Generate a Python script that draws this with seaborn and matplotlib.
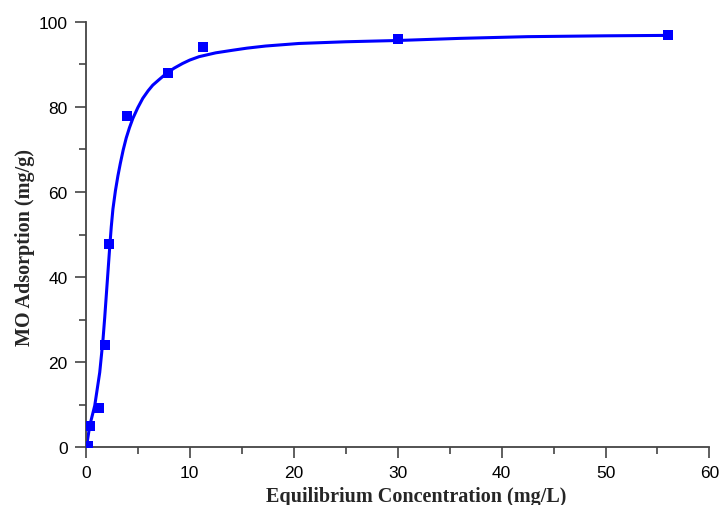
import matplotlib
matplotlib.use("Agg")
import matplotlib.pyplot as plt
from matplotlib.ticker import MultipleLocator
import seaborn as sns
import pandas as pd

# measured data points
ce_points = [0.22, 0.38, 1.24, 1.89, 2.23, 3.99, 7.88, 11.23, 30.05, 56.05]
qe_points = [0.4, 5.0, 9.2, 24.1, 47.8, 77.9, 88.0, 94.1, 95.9, 97.0]

# fitted curve
ce_fit = [0.0, 0.07, 0.38, 0.86, 1.34, 1.5, 1.66, 1.82, 1.98, 2.14, 2.30, 2.45,
          2.61, 2.85, 3.09, 3.32, 3.6, 3.89, 4.2, 4.53, 5.0, 5.48, 6.0, 6.44,
          7.0, 7.72, 8.5, 9.31, 10.0, 10.9, 12.5, 14.1, 15.5, 17.3, 20.5,
          25.0, 30.0, 36.0, 42.5, 50.0, 56.05]
qe_fit = [0.0, 0.2, 5.1, 9.8, 17.6, 21.5, 25.5, 30.5, 36.0, 41.5, 47.0, 51.8,
          56.0, 60.3, 63.8, 66.7, 69.9, 72.7, 75.1, 77.3, 79.8, 82.0, 83.8,
          85.1, 86.3, 87.8, 89.1, 90.2, 91.0, 91.8, 92.7, 93.3, 93.8, 94.3,
          94.9, 95.3, 95.6, 96.1, 96.5, 96.7, 96.8]

x_ticks = [0, 10, 20, 30, 40, 50, 60]
y_ticks = [0, 20, 40, 60, 80, 100]

sns.set_style("ticks")
plt.rcParams["font.family"] = ["Liberation Sans", "DejaVu Sans"]

fig = plt.figure(figsize=(7.21, 5.06), dpi=100)
ax = fig.add_axes([0.119, 0.114, 0.865, 0.841])

pts = pd.DataFrame({"Ce": ce_points, "Qe": qe_points})
fit = pd.DataFrame({"Ce": ce_fit, "Qe": qe_fit})

sns.lineplot(data=fit, x="Ce", y="Qe", ax=ax, color="#0000ff", linewidth=2.2,
             sort=False, zorder=2)
sns.scatterplot(data=pts, x="Ce", y="Qe", ax=ax, marker="s", color="#0000ff",
                s=55, edgecolor="#0000ff", linewidth=0, zorder=3)

ax.set_xlim(0, 60)
ax.set_ylim(0, 100)
ax.set_xticks(x_ticks)
ax.set_yticks(y_ticks)
ax.xaxis.set_minor_locator(MultipleLocator(5))
ax.yaxis.set_minor_locator(MultipleLocator(10))
ax.tick_params(which="major", direction="out", length=8, width=1.2,
               color="#444444", labelsize=12.5, labelcolor="black", pad=5)
ax.tick_params(which="minor", direction="out", length=5, width=1.2,
               color="#444444")
for side in ["left", "bottom"]:
    ax.spines[side].set_color("#444444")
    ax.spines[side].set_linewidth(1.3)
sns.despine(ax=ax)

serif = ["Liberation Serif", "DejaVu Serif"]
ax.set_xlabel("Equilibrium Concentration (mg/L)", fontsize=14.5,
              fontweight="bold", family=serif, va="center")
ax.set_ylabel("MO Adsorption (mg/g)", fontsize=14.5, fontweight="bold",
              family=serif, va="center")
ax.xaxis.set_label_coords(0.529, -0.1145)
ax.yaxis.set_label_coords(-0.0976, 0.472)

fig.savefig("out.png", dpi=100)
